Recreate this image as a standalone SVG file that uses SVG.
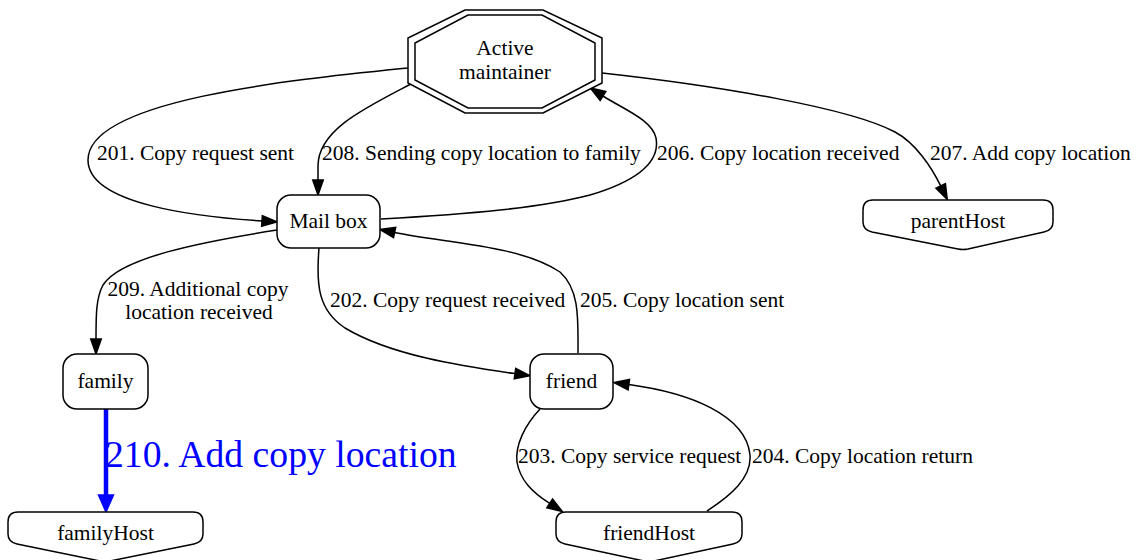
<svg xmlns="http://www.w3.org/2000/svg" width="1138" height="560" viewBox="0 0 1138 560">
<style>
  .node { fill: #ffffff; stroke: #000000; stroke-width: 1.5; }
  .edge { fill: none; stroke: #000000; stroke-width: 1.5; }
  .blue { fill: none; stroke: #0000ff; stroke-width: 4.5; }
  text { font-family: "Liberation Serif", "Times New Roman", serif; font-size: 21.5px; fill: #000000; }
  .nl { text-anchor: middle; }
  .bl { fill: #0000ff; font-size: 37.7px; }
</style>
<defs>
  <marker id="ah" viewBox="0 -6 16 12" refX="0" refY="0" markerWidth="16" markerHeight="12" markerUnits="userSpaceOnUse" orient="auto" overflow="visible">
    <path d="M0,-5.25 L15,0 L0,5.25 Z" fill="#000000" stroke="#000000" stroke-width="1.5"/>
  </marker>
  <marker id="ahb" viewBox="0 -9 20 18" refX="0" refY="0" markerWidth="20" markerHeight="18" markerUnits="userSpaceOnUse" orient="auto" overflow="visible">
    <path d="M0,-7.5 L17,0 L0,7.5 Z" fill="#0000ff" stroke="#0000ff" stroke-width="1.5"/>
  </marker>
</defs>
<rect width="1138" height="560" fill="#ffffff"/>

<g id="connectors">
  <path class="edge" marker-end="url(#ah)" d="M408,68 C290,80 88,100 88,160 C88,205 200,217 262,221"/>
  <path class="edge" marker-end="url(#ah)" d="M411,84 C365,108 318,130 318,166 L318,180"/>
  <path class="edge" marker-end="url(#ah)" d="M381,219 C470,214 540,208 590,195 C640,180 660,160 656,138 C652,120 625,110 603,96"/>
  <path class="edge" marker-end="url(#ah)" d="M602,73 C720,86 850,108 895,132 C916,143.2 932,168 940.7,185.9"/>
  <path class="edge" marker-end="url(#ah)" d="M277,230 C200,242 120,258 103,285 C96,298 96,315 96,339"/>
  <path class="edge" marker-end="url(#ah)" d="M319,248 C316,285 318,310 345,328 C390,355 460,366 515,373.6"/>
  <path class="edge" marker-end="url(#ah)" d="M578,353 C578,320 580,290 560,272 C520,245 445,243 394.6,232.5"/>
  <path class="edge" marker-end="url(#ah)" d="M540,409 C525,425 515,445 517,462 C520,480 532,492 549.7,503.4"/>
  <path class="edge" marker-end="url(#ah)" d="M707,511 C730,496 752,478 750,455 C746,415 690,393 628.8,384.6"/>
  <path class="blue" marker-end="url(#ahb)" d="M106,409 L106,495"/>
  <text x="97" y="160">201. Copy request sent</text>
  <text x="322" y="160">208. Sending copy location to family</text>
  <text x="657" y="160">206. Copy location received</text>
  <text x="930" y="160">207. Add copy location</text>
  <text class="nl" x="198" y="296">209. Additional copy</text>
  <text class="nl" x="199" y="319">location received</text>
  <text x="330" y="307">202. Copy request received</text>
  <text x="580" y="307">205. Copy location sent</text>
  <text x="518" y="463">203. Copy service request</text>
  <text x="752" y="463">204. Copy location return</text>
  <text class="bl" x="105" y="467">210. Add copy location</text>
</g>

<g id="active-maintainer">
  <polygon class="node" points="465,10 543,10 602,38 602,83 543,113 465,113 408,83 408,38"/>
  <polygon class="node" style="fill:none" points="468,15 542,15 595,43 595,80 542,108 468,108 415,80 415,43"/>
  <text class="nl" x="505" y="55">Active</text>
  <text class="nl" x="505" y="79">maintainer</text>
</g>

<g id="mail-box">
  <rect class="node" x="277" y="195" width="103" height="53" rx="14" ry="14"/>
  <text class="nl" x="328.5" y="228">Mail box</text>
</g>

<g id="parentHost">
  <path class="node" d="M873,200 L1043,200 Q1053,200 1053,210 L1053,222 Q1053,230 1044,232 L968,249 Q963,250 958,249 L872,232 Q863,230 863,222 L863,210 Q863,200 873,200 Z"/>
  <text class="nl" x="958" y="228">parentHost</text>
</g>

<g id="family">
  <rect class="node" x="63" y="354" width="85" height="55" rx="14" ry="14"/>
  <text class="nl" x="105.5" y="388">family</text>
</g>

<g id="friend">
  <rect class="node" x="530" y="354" width="83" height="55" rx="14" ry="14"/>
  <text class="nl" x="571.5" y="388">friend</text>
</g>

<g id="familyHost">
  <path class="node" d="M18,512 L193,512 Q203,512 203,522 L203,534 Q203,542 194,544 L110,561 Q105,562 100,561 L17,544 Q8,542 8,534 L8,522 Q8,512 18,512 Z"/>
  <text class="nl" x="105.5" y="540">familyHost</text>
</g>

<g id="friendHost">
  <path class="node" d="M566,512 L732,512 Q742,512 742,522 L742,534 Q742,542 733,544 L654,561 Q649,562 644,561 L565,544 Q556,542 556,534 L556,522 Q556,512 566,512 Z"/>
  <text class="nl" x="649" y="540">friendHost</text>
</g>
</svg>
